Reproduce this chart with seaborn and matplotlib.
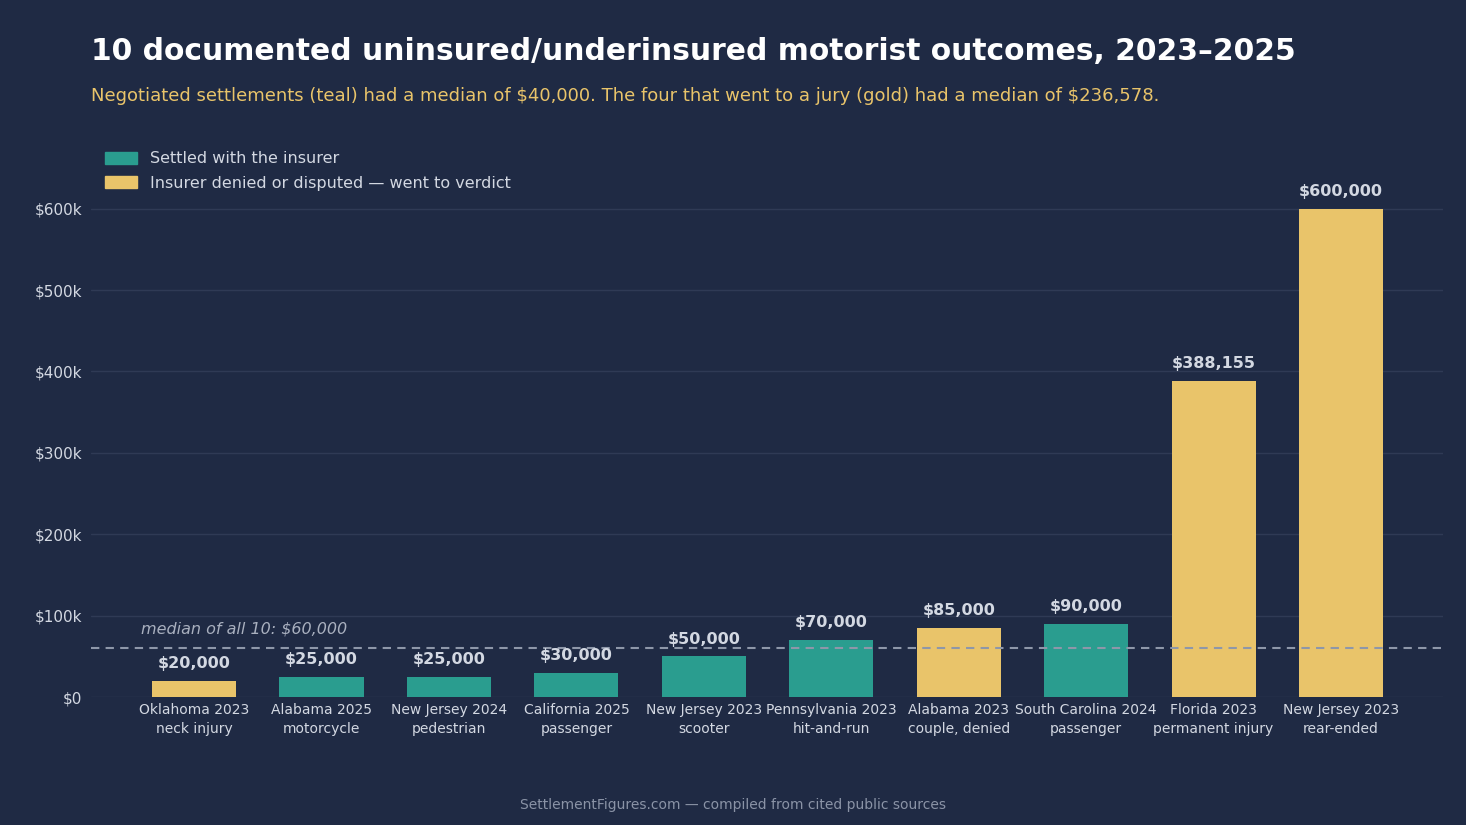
import seaborn as sns
import matplotlib.pyplot as plt
import matplotlib.ticker as mticker
from matplotlib.patches import Patch
import pandas as pd

# data
cases = ["Oklahoma 2023\nneck injury", "Alabama 2025\nmotorcycle", "New Jersey 2024\npedestrian",
         "California 2025\npassenger", "New Jersey 2023\nscooter", "Pennsylvania 2023\nhit-and-run",
         "Alabama 2023\ncouple, denied", "South Carolina 2024\npassenger", "Florida 2023\npermanent injury",
         "New Jersey 2023\nrear-ended"]
amounts = [20000, 25000, 25000, 30000, 50000, 70000, 85000, 90000, 388155, 600000]
outcome = ["verdict", "settled", "settled", "settled", "settled", "settled",
           "verdict", "settled", "verdict", "verdict"]
median_all = 60000

BG = "#1f2a44"
TEAL = "#2a9d8f"
GOLD = "#e9c46a"
TXT = "#d3d8e2"

df = pd.DataFrame({"case": cases, "amount": amounts, "outcome": outcome})

sns.set_theme(style="dark")
plt.rcParams["font.family"] = ["DejaVu Sans"]

fig = plt.figure(figsize=(14.66, 8.25), dpi=100, facecolor=BG)
ax = fig.add_axes([0.062, 0.155, 0.9223, 0.675], facecolor=BG)

sns.barplot(data=df, x="case", y="amount", hue="outcome", hue_order=["settled", "verdict"],
            palette={"settled": TEAL, "verdict": GOLD}, dodge=False, width=0.66,
            saturation=1, legend=False, linewidth=0, edgecolor="none", ax=ax)

ax.set_xlim(-0.81, 9.8)
ax.set_ylim(0, 684000)
ax.yaxis.set_major_locator(mticker.MultipleLocator(100000))
ax.yaxis.set_major_formatter(mticker.FuncFormatter(lambda v, p: "$0" if v == 0 else f"${int(v/1000)}k"))
ax.grid(axis="y", color="#2f3a55", linewidth=1)
ax.grid(axis="x", visible=False)
ax.set_axisbelow(True)
for s in ax.spines.values():
    s.set_visible(False)
ax.set_xlabel("")
ax.set_ylabel("")
ax.tick_params(axis="x", colors=TXT, labelsize=10, pad=4, length=0)
ax.tick_params(axis="y", colors=TXT, labelsize=11, pad=6, length=0)
for lab in ax.get_xticklabels():
    lab.set_linespacing(1.45)

for cont in ax.containers:
    for bar in cont:
        h = bar.get_height()
        if h != h or h == 0:
            continue
        ax.annotate(f"${h:,.0f}", (bar.get_x() + bar.get_width() / 2, h),
                    xytext=(0, 7), textcoords="offset points", ha="center", va="bottom",
                    color=TXT, fontsize=11.5, fontweight="bold")

ax.axhline(median_all, color="#8e97a9", linestyle=(0, (4, 3)), linewidth=1.5, zorder=1)
ax.text(-0.42, median_all + 14000, f"median of all 10: ${median_all:,}", color="#a9b0bf",
        fontsize=11.5, style="italic", va="bottom", ha="left")

handles = [Patch(color=TEAL, label="Settled with the insurer"),
           Patch(color=GOLD, label="Insurer denied or disputed — went to verdict")]
leg = ax.legend(handles=handles, loc="upper left", bbox_to_anchor=(0.0, 1.006), frameon=False,
                fontsize=11.5, handlelength=2.0, handleheight=0.75, labelcolor=TXT,
                labelspacing=0.58)

fig.text(0.062, 0.938, "10 documented uninsured/underinsured motorist outcomes, 2023–2025",
         color="white", fontsize=21.4, fontweight="bold", va="center", ha="left")
fig.text(0.062, 0.884, "Negotiated settlements (teal) had a median of \\$40,000. The four that went to a jury (gold) had a median of \\$236,578.",
         color=GOLD, fontsize=13, va="center", ha="left")
fig.text(0.5, 0.024, "SettlementFigures.com — compiled from cited public sources",
         color="#8a93a6", fontsize=10, va="center", ha="center")

fig.savefig("out.png", dpi=100, facecolor=BG)
